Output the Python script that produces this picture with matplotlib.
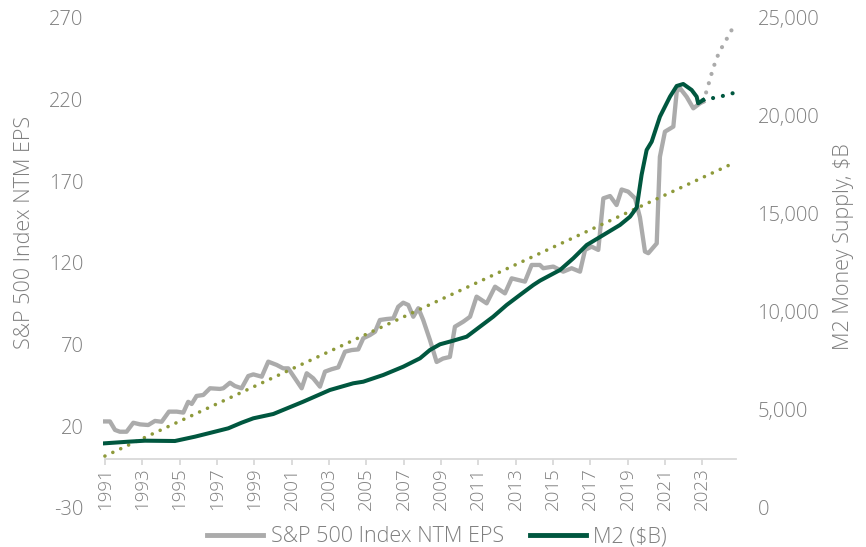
import matplotlib
matplotlib.use("Agg")
import matplotlib.pyplot as plt
from matplotlib.lines import Line2D

plt.rcParams["font.family"] = ["Open Sans", "DejaVu Sans"]
plt.rcParams["font.weight"] = "light"

# S&P 500 Index NTM EPS (left axis)
eps_years = [1991.0, 1991.27, 1991.54, 1991.8, 1992.16, 1992.52, 1992.88, 1993.32, 1993.68, 1994.04,
             1994.43, 1994.84, 1995.2, 1995.46, 1995.65, 1995.91, 1996.27, 1996.63, 1997.16, 1997.34,
             1997.7, 1997.96, 1998.32, 1998.68, 1998.95, 1999.4, 1999.75, 2000.2, 2000.55, 2000.82,
             2001.18, 2001.54, 2001.81, 2002.16, 2002.52, 2002.79, 2003.15, 2003.5, 2003.86, 2004.22,
             2004.57, 2004.84, 2005.2, 2005.47, 2005.73, 2006.09, 2006.45, 2006.71, 2006.98, 2007.25,
             2007.52, 2007.79, 2008.05, 2008.41, 2008.77, 2009.11, 2009.48, 2009.75, 2010.2, 2010.56,
             2010.91, 2011.45, 2011.9, 2012.43, 2012.79, 2013.5, 2013.86, 2014.3, 2014.48, 2015.02,
             2015.55, 2016.0, 2016.45, 2016.72, 2017.07, 2017.43, 2017.7, 2018.06, 2018.41, 2018.68,
             2019.03, 2019.4, 2019.66, 2019.93, 2020.11, 2020.56, 2020.73, 2021.0, 2021.45, 2021.63,
             2021.81, 2022.16, 2022.52, 2022.88, 2023.05]
eps_values = [23.0, 23.0, 17.8, 16.7, 16.7, 22.2, 21.2, 20.8, 23.3, 22.8,
              29.0, 29.0, 28.4, 35.0, 33.7, 38.6, 39.2, 43.3, 42.9, 43.3,
              46.7, 44.7, 43.3, 50.8, 51.8, 50.4, 59.6, 57.6, 55.5, 55.5,
              49.4, 43.3, 52.5, 49.4, 44.3, 53.5, 55.0, 56.1, 65.7, 66.7,
              67.1, 73.9, 75.9, 77.9, 85.1, 85.7, 86.1, 93.2, 95.7, 94.3,
              87.1, 92.3, 85.1, 72.9, 59.4, 61.5, 62.5, 81.0, 84.1, 87.1,
              99.4, 95.3, 105.5, 101.4, 110.6, 108.6, 118.8, 118.8, 116.8, 117.8,
              114.7, 116.8, 114.7, 128.0, 130.0, 128.0, 159.6, 161.0, 155.5, 165.0,
              163.7, 159.6, 148.0, 127.0, 126.0, 132.0, 185.0, 200.4, 203.5, 224.9,
              227.0, 221.8, 214.7, 217.8, 218.8]

# EPS projection (dotted)
eps_proj_years = [2023.05, 2023.25, 2023.5, 2023.75, 2024.0, 2024.25, 2024.5, 2024.72]
eps_proj_values = [218.8, 226, 236, 245, 251, 256, 261, 266]

# linear trend (dotted olive), left axis
trend_years = [1991.0, 2024.72]
trend_values = [1.8, 181.4]

# M2 money supply ($B, right axis)
m2_years = [1991.0, 1992.25, 1993.14, 1994.75, 1995.82, 1996.89, 1997.61, 1998.32, 1998.95, 2000.02,
            2001.62, 2003.05, 2004.3, 2004.84, 2005.91, 2006.98, 2007.88, 2008.41, 2008.95, 2009.66,
            2010.38, 2011.09, 2011.8, 2012.52, 2013.23, 2013.95, 2014.31, 2015.38, 2016.09, 2016.81,
            2017.7, 2018.59, 2019.13, 2019.49, 2019.75, 2020.02, 2020.29, 2020.73, 2021.27, 2021.63,
            2021.98, 2022.43, 2022.7, 2022.78, 2023.05]
m2_values = [3301, 3383, 3434, 3418, 3638, 3893, 4066, 4352, 4576, 4796,
             5423, 6020, 6362, 6444, 6786, 7209, 7638, 8061, 8352, 8536,
             8740, 9250, 9760, 10357, 10867, 11377, 11600, 12143, 12739, 13418,
             13928, 14439, 14862, 15330, 17000, 18265, 18690, 19964, 20985, 21531,
             21633, 21327, 20985, 20648, 20816]

m2_proj_years = [2023.05, 2023.5, 2024.0, 2024.5, 2024.72]
m2_proj_values = [20816, 20900, 21000, 21120, 21190]

x_ticks = list(range(1991, 2024, 2))
left_ticks = [-30, 20, 70, 120, 170, 220, 270]
right_ticks = [0, 5000, 10000, 15000, 20000, 25000]

gray = "#ababab"
green = "#00573f"
olive = "#8e9a3b"
text_c = "#7f7f7f"

fig = plt.figure(figsize=(8.66, 5.47), dpi=100)
ax = fig.add_axes([0.119, 0.0713, 0.7372, 0.8958])
ax2 = ax.twinx()

ax.plot(eps_years, eps_values, color=gray, lw=3.1, solid_joinstyle="round", zorder=2)
ax.plot(eps_proj_years, eps_proj_values, color=gray, lw=3.0, linestyle=(0, (0.01, 2.3)),
        dash_capstyle="round", zorder=2)
ax.plot(trend_years, trend_values, color=olive, lw=2.6, linestyle=(0, (0.01, 2.4)),
        dash_capstyle="round", zorder=3)
ax2.plot(m2_years, m2_values, color=green, lw=2.9, solid_joinstyle="round", zorder=3)
ax2.plot(m2_proj_years, m2_proj_values, color=green, lw=3.0, linestyle=(0, (0.01, 2.4)),
         dash_capstyle="round", zorder=3)

ax.set_xlim(1990.9, 2025.1)
ax.set_ylim(-30, 270)
ax2.set_ylim(0, 25000)

for s in ["top", "left", "right"]:
    ax.spines[s].set_visible(False)
    ax2.spines[s].set_visible(False)
ax2.spines["bottom"].set_visible(False)
ax.spines["bottom"].set_position(("data", 0))
ax.spines["bottom"].set_bounds(1991, 2024.8)
ax.spines["bottom"].set_color("#d9d9d9")
ax.spines["bottom"].set_linewidth(1.3)

ax.set_xticks(x_ticks)
ax.set_xticklabels([str(y) for y in x_ticks], rotation=90)
ax.tick_params(axis="x", length=4.5, width=1.3, color="#d9d9d9", pad=1.5,
               labelsize=13.5, labelcolor=text_c)

ax.set_yticks(left_ticks)
ax.set_yticklabels([str(v) for v in left_ticks])
ax.tick_params(axis="y", length=0, pad=14, labelsize=14.5, labelcolor=text_c)

ax2.set_yticks(right_ticks)
ax2.set_yticklabels([f"{v:,}" for v in right_ticks])
ax2.tick_params(axis="y", length=0, pad=11.5, labelsize=14.5, labelcolor=text_c)

fig.text(25 / 866, 1 - 232 / 547, "S&P 500 Index NTM EPS", rotation=90, ha="center", va="center",
         fontsize=15.5, color=text_c)
fig.text(843 / 866, 1 - 247 / 547, "M2 Money Supply, $B", rotation=90, ha="center", va="center",
         fontsize=15.5, color=text_c)

handles = [Line2D([], [], color=gray, lw=3.5), Line2D([], [], color=green, lw=3.5)]
fig.legend(handles, ["S&P 500 Index NTM EPS", "M2 ($B)"], loc="center",
           bbox_to_anchor=(437 / 866, 1 - 537 / 547), ncol=2, frameon=False, fontsize=15.5,
           labelcolor=text_c, handlelength=2.6, handletextpad=0.35, columnspacing=1.2,
           borderpad=0, borderaxespad=0)

fig.savefig("out.png", dpi=100)
